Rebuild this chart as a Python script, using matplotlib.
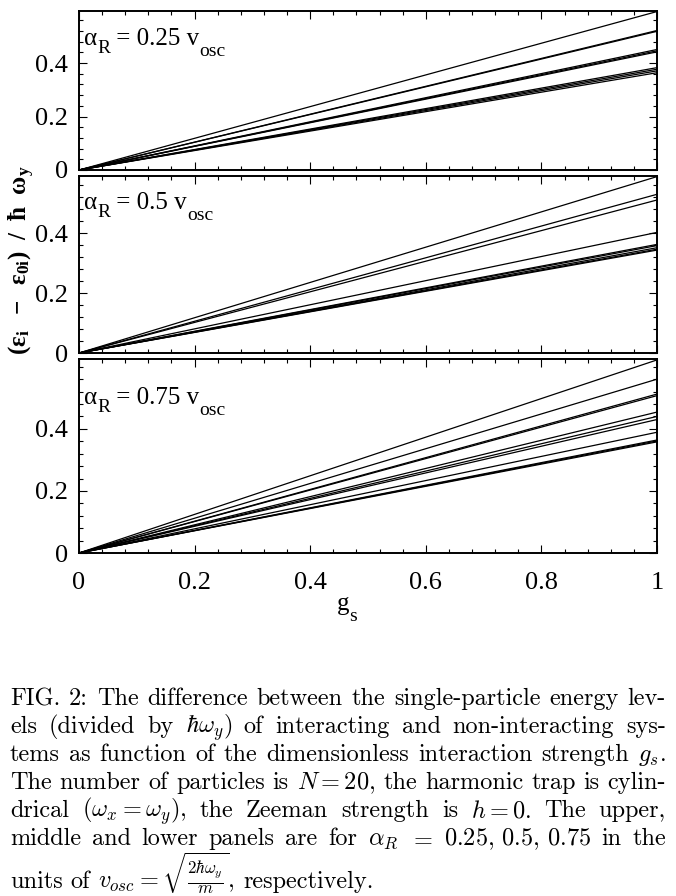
import numpy as np
import matplotlib
matplotlib.use('Agg')
import matplotlib.pyplot as plt
from matplotlib.ticker import MultipleLocator, FormatStrFormatter

# g_s range, each level shift is drawn from g_s = 0 to g_s = 1
gs_ends = [0.0, 1.0]
alpha_labels = ['0.25', '0.5', '0.75']
# (eps_i - eps_0i)/hbar w_y read at g_s = 1 for every panel
shift_025 = [0.593, 0.522, 0.519, 0.451, 0.446, 0.442, 0.383, 0.377, 0.371, 0.364]
shift_05 = [0.588, 0.529, 0.510, 0.402, 0.362, 0.358, 0.351, 0.346, 0.343]
shift_075 = [0.622, 0.560, 0.512, 0.507, 0.454, 0.440, 0.430, 0.389, 0.364, 0.361, 0.358]
ymax = [0.595, 0.59, 0.625]
xticks = [0, 0.2, 0.4, 0.6, 0.8, 1]
yticks = [0, 0.2, 0.4]

caption = [
   r"FIG. 2: The difference between the single-particle energy lev-",
   r"els (divided by $\hbar\omega_y$) of interacting and non-interacting sys-",
   r"tems as function of the dimensionless interaction strength $g_s$.",
   r"The number of particles is $N=20$, the harmonic trap is cylin-",
   r"drical ($\omega_x=\omega_y$), the Zeeman strength is $h=0$. The upper,",
   r"middle and lower panels are for $\alpha_R$ $=$ $0.25,\,0.5,\,0.75$ in the",
   r"units of $v_{osc}=\sqrt{\frac{2\hbar\omega_y}{m}}$, respectively.",
]

plt.rcParams['font.family'] = ['Liberation Serif', 'DejaVu Serif']
plt.rcParams['mathtext.fontset'] = 'custom'
plt.rcParams['mathtext.rm'] = 'Liberation Serif'
plt.rcParams['mathtext.it'] = 'Liberation Serif:italic'
plt.rcParams['mathtext.bf'] = 'Liberation Serif:bold'

W, H = 676, 896
fig = plt.figure(figsize=(W / 100, H / 100), dpi=100)

def px_rect(x0, y0, x1, y1):
   return [x0 / W, 1 - y1 / H, (x1 - x0) / W, (y1 - y0) / H]

rects = [(79, 11, 657, 170), (79, 176, 657, 353), (79, 359, 657, 553)]
label_base = [45, 209, 404]
shifts = [shift_025, shift_05, shift_075]

for k in range(3):
   ax = fig.add_axes(px_rect(*rects[k]))
   for v in shifts[k]:
      ax.plot(gs_ends, [0.0, v], color='black', lw=0.9, clip_on=False)
   ax.set_xlim(0, 1)
   ax.set_ylim(0, ymax[k])
   ax.set_xticks(xticks)
   ax.set_yticks(yticks)
   ax.xaxis.set_minor_locator(MultipleLocator(0.04))
   ax.yaxis.set_minor_locator(MultipleLocator(0.04))
   ax.xaxis.set_major_formatter(FormatStrFormatter('%g'))
   ax.yaxis.set_major_formatter(FormatStrFormatter('%g'))
   ax.tick_params(which='both', direction='in', top=True, right=True, width=0.8)
   ax.tick_params(which='major', length=5.5, labelsize=19)
   ax.tick_params(which='minor', length=3)
   ax.tick_params(axis='y', pad=8)
   ax.tick_params(axis='x', pad=14)
   if k < 2:
      ax.tick_params(axis='x', labelbottom=False)
   for sp in ax.spines.values():
      sp.set_linewidth(1.4)

fig.text(22 / W, 1 - 260 / H, r'$\mathbf{(ε_i\ \ -\ \ ε_{0i})\ \ /\ \ ħ\ \ ω_y}$',
         rotation=90, ha='center', va='center', fontsize=18)

fig.canvas.draw()
renderer = fig.canvas.get_renderer()

def place_pieces(x_px, y_px, pieces):
   # pieces: (text, size, drop below baseline in px) written left to right
   x = x_px
   for s, size, dy in pieces:
      t = fig.text(x / W, 1 - (y_px + dy) / H, s, fontsize=size, ha='left', va='baseline')
      x += t.get_window_extent(renderer).width

for k in range(3):
   place_pieces(84, label_base[k], [('α', 18, 0), ('R', 14, 8),
                                     (' = ' + alpha_labels[k] + ' v', 18, 0), ('osc', 14, 11)])
place_pieces(337, 610, [('g', 18, 0), ('s', 14, 11)])

# caption, justified line by line like the TeX page
cap_size = 17.5
x_left, x_right = 10, 666
baselines = [705, 733, 761, 789, 817, 845, 888]
for i, line in enumerate(caption):
   words = line.split(' ')
   texts = [fig.text(0, 1 - baselines[i] / H, w, fontsize=cap_size, family='cmr10',
                     math_fontfamily='cm', ha='left', va='baseline') for w in words]
   widths = [t.get_window_extent(renderer).width for t in texts]
   if i < len(caption) - 1:
      gap = (x_right - x_left - sum(widths)) / (len(words) - 1)
   else:
      gap = 0.333 * cap_size * 100 / 72
   x = x_left
   for t, w in zip(texts, widths):
      t.set_x(x / W)
      x += w + gap

fig.savefig('out.png', dpi=100)
